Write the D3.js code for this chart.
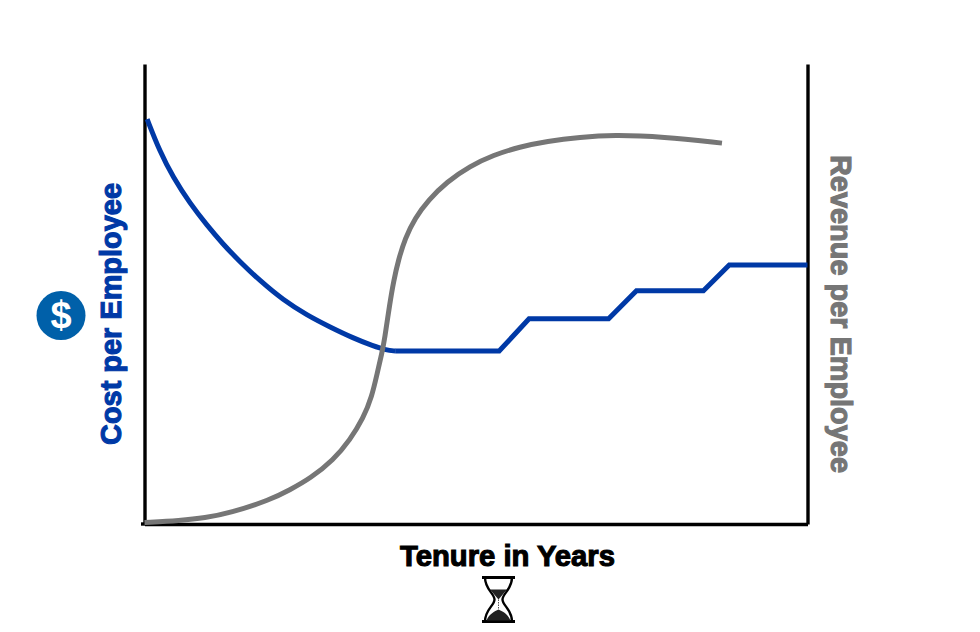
<!DOCTYPE html>
<html>
<head>
<meta charset="utf-8">
<script src="https://cdn.jsdelivr.net/npm/d3@7"></script>
<style>
  html, body { margin: 0; padding: 0; background: #fff; }
  svg { display: block; }
  text { font-family: "Liberation Sans", Arial, sans-serif; font-weight: 700; }
</style>
</head>
<body>
<div class="canva"></div>
<script>
// values (years on x, 0-100 index on y)
const costCurveYears = [0.04, 0.23, 0.43, 0.69, 0.94, 1.18, 1.44, 1.74, 2.09, 2.45, 2.80, 3.15, 3.45, 3.65, 3.78];
const costCurveValues = [88.0, 81.0, 75.4, 69.6, 65.0, 60.9, 57.0, 52.9, 48.7, 45.4, 42.8, 40.4, 38.7, 37.8, 37.6];
const costStepYears = [3.78, 5.35, 5.80, 7.00, 7.42, 8.43, 8.82, 10];
const costStepValues = [37.6, 37.6, 44.6, 44.6, 50.7, 50.7, 56.3, 56.3];
const revenueYears = [0, 0.54, 0.91, 1.29, 1.89, 2.19, 2.50, 2.85, 3.10, 3.30, 3.43, 3.51, 3.58, 3.62, 3.70, 3.76, 3.83, 3.93, 4.08, 4.28, 4.56, 4.91, 5.26, 5.66, 6.07, 6.57, 7.07, 7.82, 8.71];
const revenueValues = [0.3, 0.76, 1.3, 2.4, 5.2, 7.4, 9.9, 13.9, 18.3, 23.0, 27.7, 32.8, 37.1, 40.0, 48.0, 53.0, 57.4, 62.1, 66.5, 70.4, 74.4, 77.8, 80.2, 82.0, 83.2, 84.1, 84.6, 84.2, 82.8];

const width = 980;
const height = 632;

const svg = d3.select('.canva').append('svg')
  .attr('width', width)
  .attr('height', height)

const x = d3.scaleLinear().domain([0, 10]).range([144.5, 807.5]);
const y = d3.scaleLinear().domain([0, 100]).range([524, 64]);

// axes: no ticks or labels in this chart
function drawAxis(axis, tx, ty){
  const g = svg.append('g')
    .attr('transform', `translate(${tx},${ty})`)
    .call(axis.tickValues([]).tickSizeOuter(0));
  g.select('.domain').attr('stroke', '#000').attr('stroke-width', 3.4);
}
drawAxis(d3.axisLeft(y), x(0), 0);
drawAxis(d3.axisRight(y), x(10), 0);
drawAxis(d3.axisBottom(x), 0, y(0));
svg.append('line').attr('x1', 141).attr('x2', 146).attr('y1', y(0)).attr('y2', y(0))
  .attr('stroke', '#000').attr('stroke-width', 3.4);

const straight = d3.line().x(d => x(d[0])).y(d => y(d[1]));
const smooth = d3.line().x(d => x(d[0])).y(d => y(d[1])).curve(d3.curveBasis);

// cost: curve down to the low point, then straight steps
svg.append('path')
  .attr('d', smooth(d3.zip(costCurveYears, costCurveValues)))
  .attr('fill', 'none').attr('stroke', '#0039a6').attr('stroke-width', 5);
svg.append('path')
  .attr('d', straight(d3.zip(costStepYears, costStepValues)))
  .attr('fill', 'none').attr('stroke', '#0039a6').attr('stroke-width', 5);

svg.append('path')
  .attr('d', smooth(d3.zip(revenueYears, revenueValues)))
  .attr('fill', 'none').attr('stroke', '#767676').attr('stroke-width', 5);

// labels
svg.append('text')
  .attr('transform', 'translate(121,314) rotate(-90)')
  .attr('text-anchor', 'middle')
  .attr('font-size', 29)
  .attr('textLength', 262).attr('lengthAdjust', 'spacingAndGlyphs')
  .attr('fill', '#0039a6').attr('stroke', '#0039a6').attr('stroke-width', 1.1)
  .text('Cost per Employee');

svg.append('text')
  .attr('transform', 'translate(831,314) rotate(90)')
  .attr('text-anchor', 'middle')
  .attr('font-size', 29)
  .attr('textLength', 318).attr('lengthAdjust', 'spacingAndGlyphs')
  .attr('fill', '#767676').attr('stroke', '#767676').attr('stroke-width', 1.1)
  .text('Revenue per Employee');

svg.append('text')
  .attr('x', 507.5).attr('y', 566)
  .attr('text-anchor', 'middle')
  .attr('font-size', 29)
  .attr('textLength', 215).attr('lengthAdjust', 'spacingAndGlyphs')
  .attr('fill', '#000').attr('stroke', '#000').attr('stroke-width', 1.1)
  .text('Tenure in Years');

// dollar icon
svg.append('circle').attr('cx', 61).attr('cy', 315.5).attr('r', 24.5).attr('fill', '#0060a9');
svg.append('text')
  .attr('x', 61).attr('y', 328)
  .attr('text-anchor', 'middle')
  .attr('font-size', 38)
  .attr('fill', '#fff')
  .text('$');

// hourglass icon
const glass = svg.append('g').attr('transform', 'translate(498.5,599.5)');
glass.append('path')
  .attr('d', 'M-16.5,-22H16.5M-16.5,22H16.5')
  .attr('stroke', '#000').attr('stroke-width', 3).attr('fill', 'none');
glass.append('path')
  .attr('d', 'M-13.5,-22C-13.5,-10 -4,-6 -4,0C-4,6 -13.5,10 -13.5,22M13.5,-22C13.5,-10 4,-6 4,0C4,6 13.5,10 13.5,22')
  .attr('stroke', '#000').attr('stroke-width', 2.4).attr('fill', 'none');
glass.append('path').attr('d', 'M-8.5,-10H8.5L0,0Z').attr('fill', '#222');
glass.append('path').attr('d', 'M-12,21C-9,14 -4,12 0,10C4,12 9,14 12,21Z').attr('fill', '#222');
glass.append('line').attr('x1', 0).attr('x2', 0).attr('y1', 0).attr('y2', 10)
  .attr('stroke', '#555').attr('stroke-width', 1).attr('stroke-dasharray', '1.5 1');
</script>
</body>
</html>
